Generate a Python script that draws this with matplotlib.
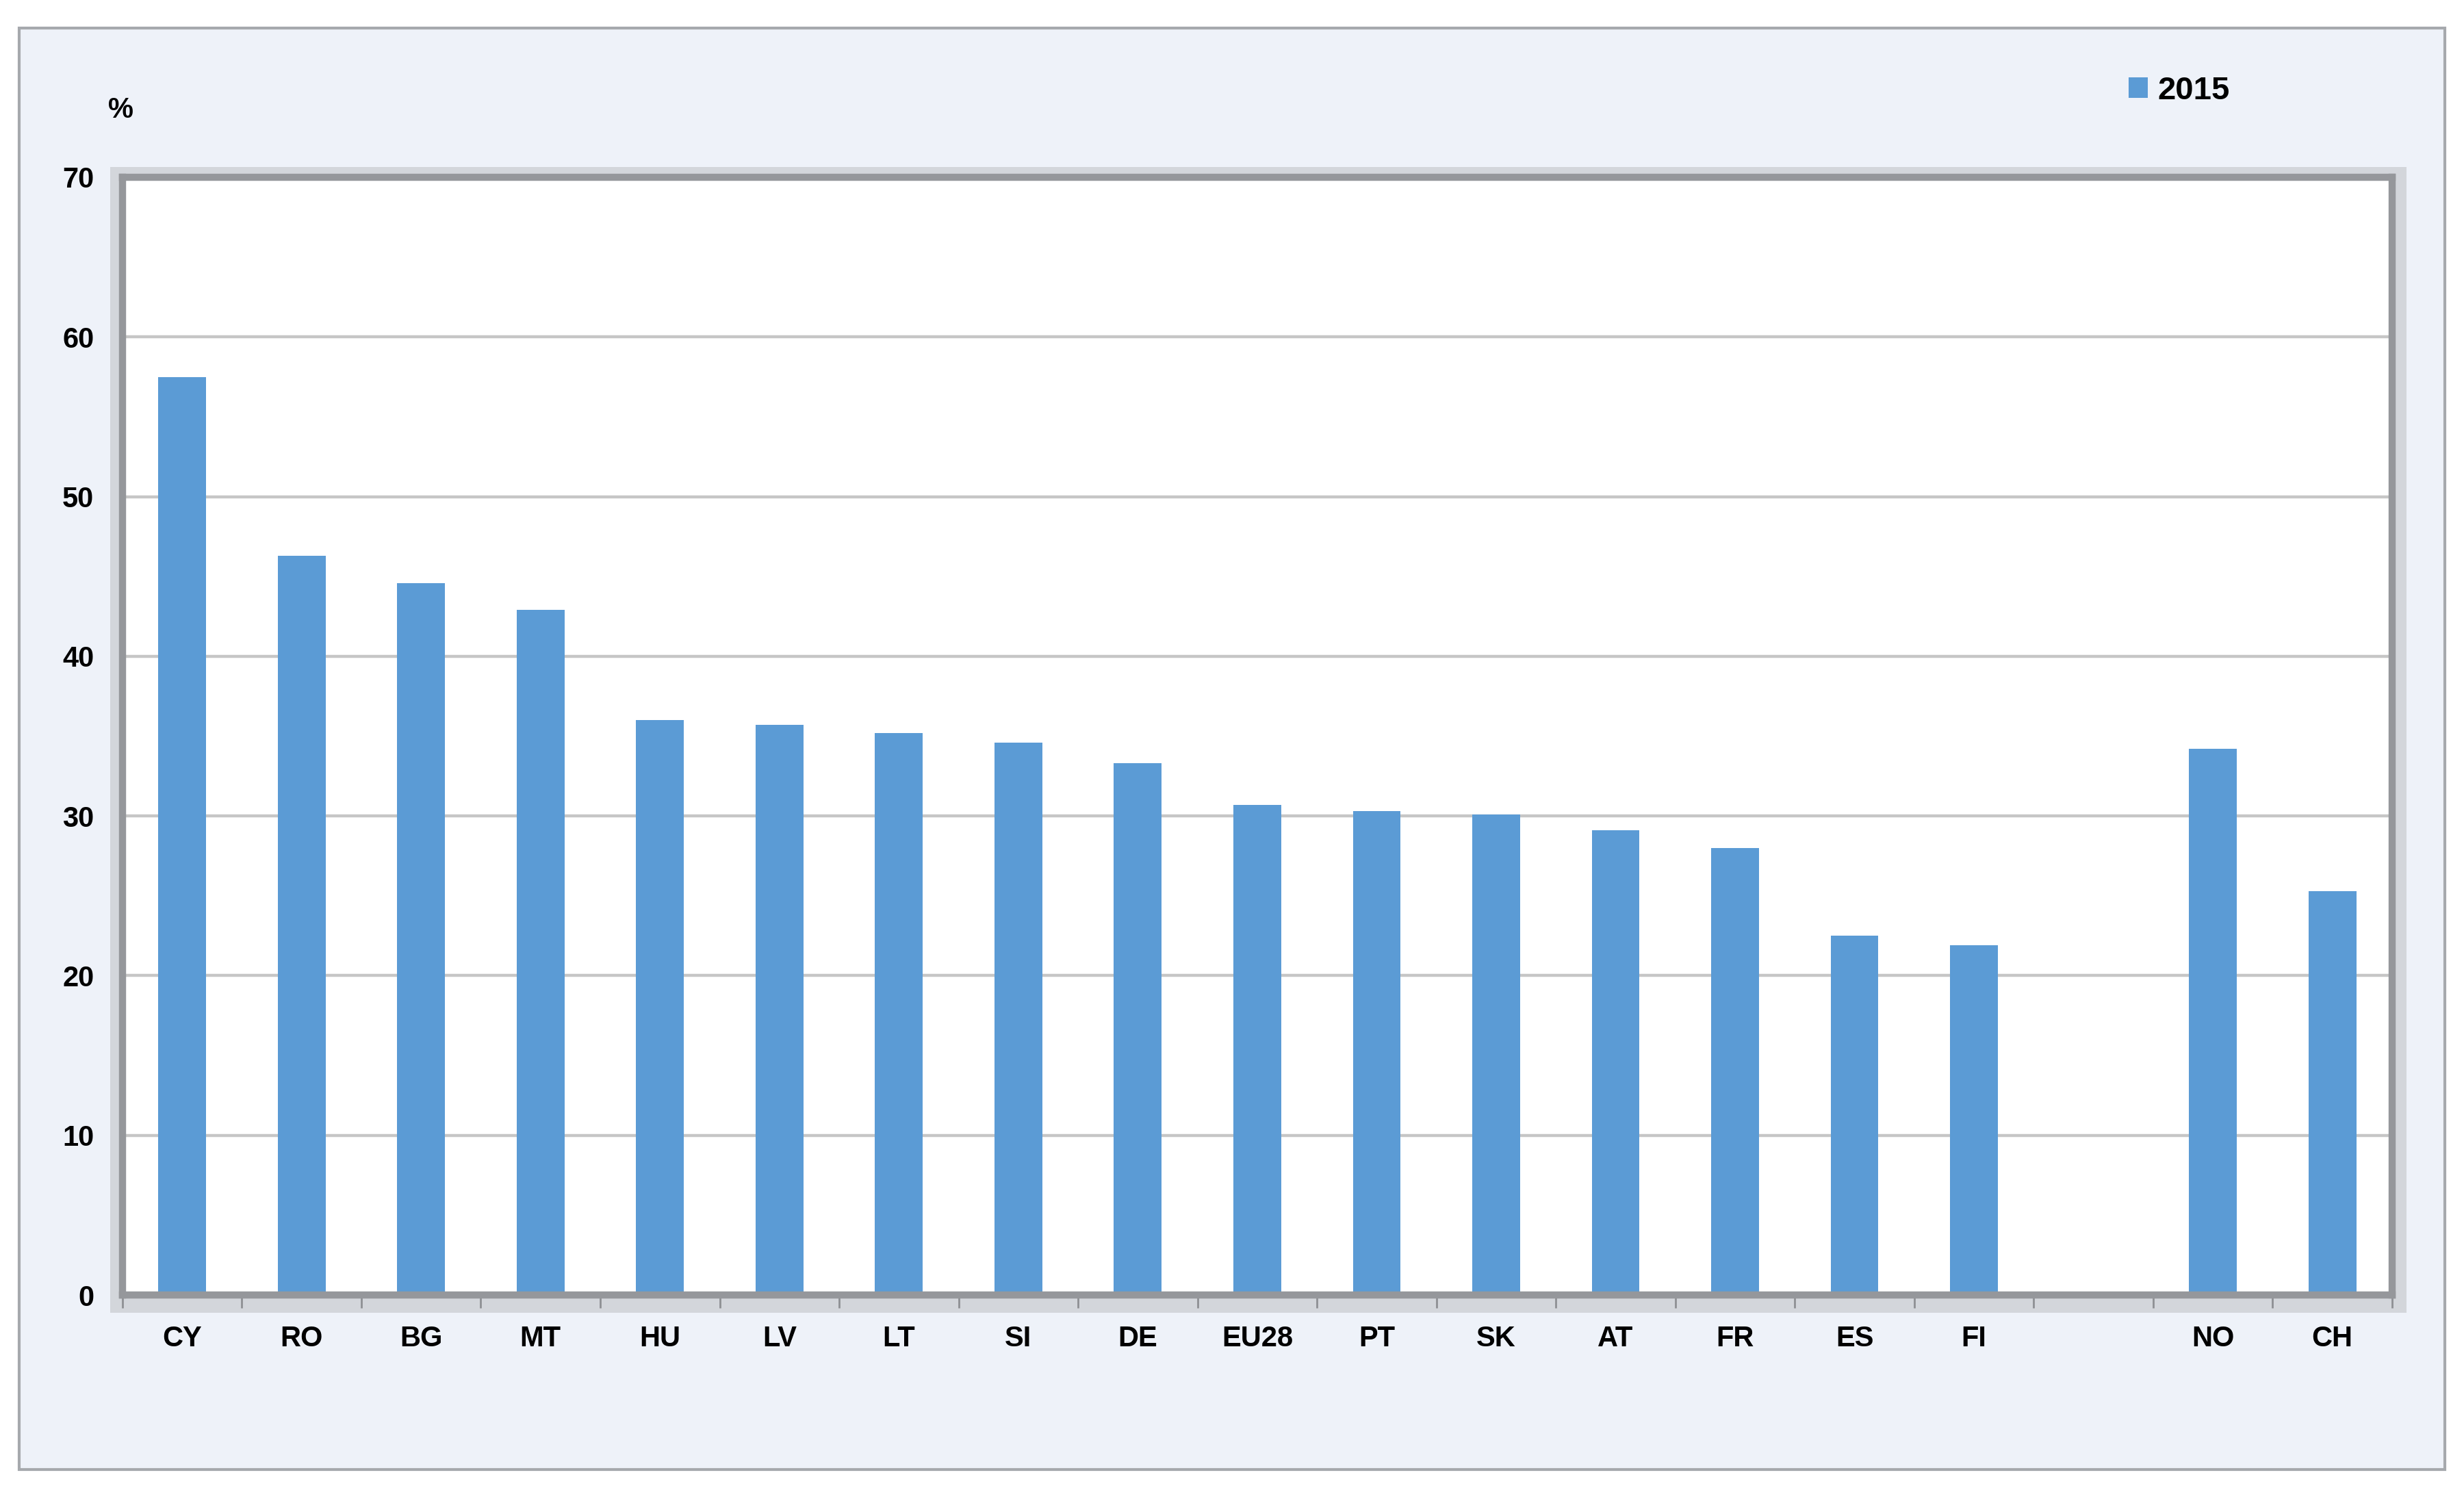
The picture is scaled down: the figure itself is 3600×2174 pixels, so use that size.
import matplotlib.pyplot as plt
import matplotlib.patches as mpatches
import numpy as np

# data (share in %, 2015)
countries = ["CY", "RO", "BG", "MT", "HU", "LV", "LT", "SI", "DE", "EU28",
             "PT", "SK", "AT", "FR", "ES", "FI", "", "NO", "CH"]
values_2015 = [57.5, 46.3, 44.6, 42.9, 36.0, 35.7, 35.2, 34.6, 33.3, 30.7,
               30.3, 30.1, 29.1, 28.0, 22.5, 21.9, np.nan, 34.2, 25.3]
yticks = [0, 10, 20, 30, 40, 50, 60, 70]
series_name = "2015"

bar_color = "#5B9BD5"
panel_color = "#EEF2F9"

plt.rcParams["font.family"] = ["Liberation Sans", "DejaVu Sans"]
plt.rcParams["font.weight"] = "bold"

fig = plt.figure(figsize=(36, 21.74), dpi=100, facecolor="white")

# outer light panel with grey border
panel = mpatches.Rectangle((0.0078, 0.0124), 0.9844, 0.9688, transform=fig.transFigure,
                           facecolor=panel_color, edgecolor="#A6A9AD", linewidth=3, zorder=-3)
fig.patches.append(panel)

ax_pos = [0.0497, 0.1297, 0.9211, 0.7512]

# soft shadow around the plot area
shadow = mpatches.Rectangle((ax_pos[0] - 0.005, ax_pos[1] - 0.012), ax_pos[2] + 0.011, ax_pos[3] + 0.019,
                            transform=fig.transFigure, facecolor="#D3D6DB", edgecolor="none", zorder=-2)
fig.patches.append(shadow)

ax = fig.add_axes(ax_pos)
ax.set_facecolor("white")

x = np.arange(len(countries))
ax.bar(x, values_2015, width=0.4, color=bar_color, zorder=3, label=series_name)

ax.set_xlim(-0.5, len(countries) - 0.5)
ax.set_ylim(0, 70)
ax.set_yticks(yticks)
ax.set_yticklabels([str(t) for t in yticks])
ax.set_xticks(x)
ax.set_xticklabels(countries)
ax.set_xticks(np.arange(-0.5, len(countries), 1), minor=True)

ax.grid(axis="y", color="#C6C6C6", linewidth=3.2, zorder=1)
ax.set_axisbelow(True)

ax.tick_params(axis="x", which="major", length=0, pad=32, labelsize=30)
ax.tick_params(axis="x", which="minor", length=14, width=2, color="#8E9094")
ax.tick_params(axis="y", length=0, pad=30, labelsize=30)

for s in ax.spines.values():
    s.set_color("#95979B")
    s.set_linewidth(7.5)
    s.set_zorder(4)

ax.text(0.049, 0.926, "%", transform=fig.transFigure, fontsize=30, ha="center", va="center")

fig.legend(loc="center left", bbox_to_anchor=(0.852, 0.939), frameon=False, fontsize=34,
           handlelength=0.6, handleheight=0.6, handletextpad=0.3)

fig.savefig("out.png", dpi=100, facecolor=fig.get_facecolor())
